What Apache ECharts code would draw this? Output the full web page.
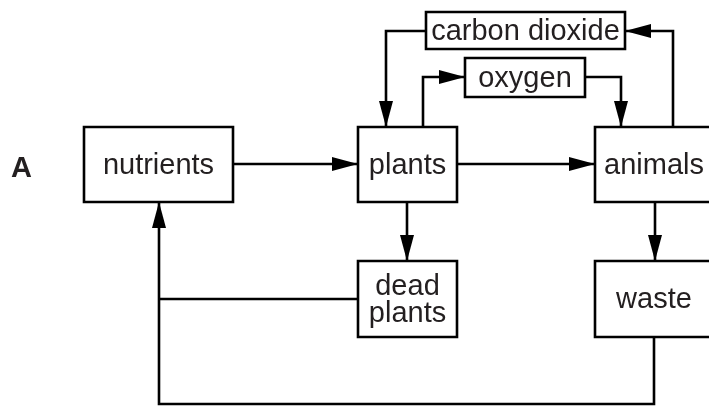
<!DOCTYPE html>
<html>
<head>
<meta charset="utf-8">
<script src="https://cdn.jsdelivr.net/npm/echarts@6/dist/echarts.min.js"></script>
<style>
  html, body { margin: 0; padding: 0; background: #fff; }
  #chart { width: 709px; height: 406px; }
</style>
</head>
<body>
<div id="chart"></div>
<script>
// ---- diagram content ----
const nodeNames = ['nutrients', 'plants', 'animals', 'dead\nplants', 'waste', 'carbon dioxide', 'oxygen'];
const sideLabel = 'A';
// flows: [from, to, hasArrow]
const linkFrom = ['nutrients', 'plants', 'plants', 'oxygen', 'animals', 'carbon dioxide', 'plants', 'animals', 'dead\nplants', 'waste'];
const linkTo   = ['plants', 'animals', 'oxygen', 'animals', 'carbon dioxide', 'plants', 'dead\nplants', 'waste', 'nutrients', 'nutrients'];
const linkArrow = [true, true, true, true, true, true, true, true, false, true];

// ---- layout (diagram units on a hidden 709 x 406 axis frame) ----
const boxLayout = {
  'nutrients':      [84, 127, 233, 202],
  'plants':         [358, 127, 457, 202],
  'animals':        [595, 127, 713, 202],
  'dead\nplants':   [358, 261, 457, 337],
  'waste':          [595, 261, 713, 337],
  'carbon dioxide': [426, 12, 625, 49],
  'oxygen':         [465, 58, 585, 97]
};
const routeLayout = [
  [[233, 164], [358, 164]],
  [[457, 164], [595, 164]],
  [[423, 127], [423, 77], [465, 77]],
  [[585, 77], [621, 77], [621, 127]],
  [[673, 127], [673, 31], [625, 31]],
  [[426, 31], [386, 31], [386, 127]],
  [[407, 202], [407, 261]],
  [[655, 202], [655, 261]],
  [[358, 299], [159, 299]],
  [[654, 337], [654, 404], [159, 404], [159, 202]]
];

const FONT = '29px "Liberation Sans", Arial, Helvetica, sans-serif';
const TEXT_COLOR = '#231f20';
const LINE_COLOR = '#000';
const LW = 2.6;
const ARROW_LEN = 26, ARROW_HALF = 7;

const chart = echarts.init(document.getElementById('chart'), null, { renderer: 'canvas' });

chart.setOption({
  animation: false,
  backgroundColor: '#fff',
  grid: { left: 0, right: 0, top: 0, bottom: 0 },
  xAxis: { type: 'value', min: 0, max: 709, show: false },
  yAxis: { type: 'value', min: 0, max: 406, inverse: true, show: false },
  graphic: [{
    type: 'text',
    left: 11, top: 154,
    style: {
      text: sideLabel,
      font: 'bold 29px "Liberation Sans", Arial, Helvetica, sans-serif',
      fill: TEXT_COLOR
    }
  }],
  series: [
    {
      type: 'custom',
      name: 'flows',
      z: 1,
      clip: false,
      silent: true,
      data: linkFrom.map((f, i) => ({ name: f + ' → ' + linkTo[i], value: [i] })),
      renderItem: function (params, api) {
        const idx = params.dataIndex;
        const pts = routeLayout[idx].map(p => api.coord(p));
        const children = [{
          type: 'polyline',
          shape: { points: pts },
          style: { stroke: LINE_COLOR, lineWidth: LW, fill: null, lineJoin: 'miter' }
        }];
        if (linkArrow[idx]) {
          const tip = pts[pts.length - 1];
          const prev = pts[pts.length - 2];
          const dx = tip[0] - prev[0], dy = tip[1] - prev[1];
          const len = Math.sqrt(dx * dx + dy * dy);
          const ux = dx / len, uy = dy / len;
          const bx = tip[0] - ux * ARROW_LEN, by = tip[1] - uy * ARROW_LEN;
          children.push({
            type: 'polygon',
            shape: { points: [tip, [bx - uy * ARROW_HALF, by + ux * ARROW_HALF], [bx + uy * ARROW_HALF, by - ux * ARROW_HALF]] },
            style: { fill: LINE_COLOR, stroke: null }
          });
        }
        return { type: 'group', children: children };
      }
    },
    {
      type: 'custom',
      name: 'boxes',
      z: 2,
      clip: false,
      silent: true,
      data: nodeNames.map(n => ({ name: n, value: boxLayout[n] })),
      renderItem: function (params, api) {
        const p1 = api.coord([api.value(0), api.value(1)]);
        const p2 = api.coord([api.value(2), api.value(3)]);
        const name = nodeNames[params.dataIndex];
        return {
          type: 'group',
          children: [
            {
              type: 'rect',
              shape: { x: p1[0], y: p1[1], width: p2[0] - p1[0], height: p2[1] - p1[1] },
              style: { fill: '#fff', stroke: LINE_COLOR, lineWidth: LW }
            },
            {
              type: 'text',
              style: {
                text: name,
                x: (p1[0] + p2[0]) / 2,
                y: (p1[1] + p2[1]) / 2 + 1,
                align: 'center',
                verticalAlign: 'middle',
                font: FONT,
                lineHeight: 27,
                fill: TEXT_COLOR
              }
            }
          ]
        };
      }
    }
  ]
});
</script>
</body>
</html>
